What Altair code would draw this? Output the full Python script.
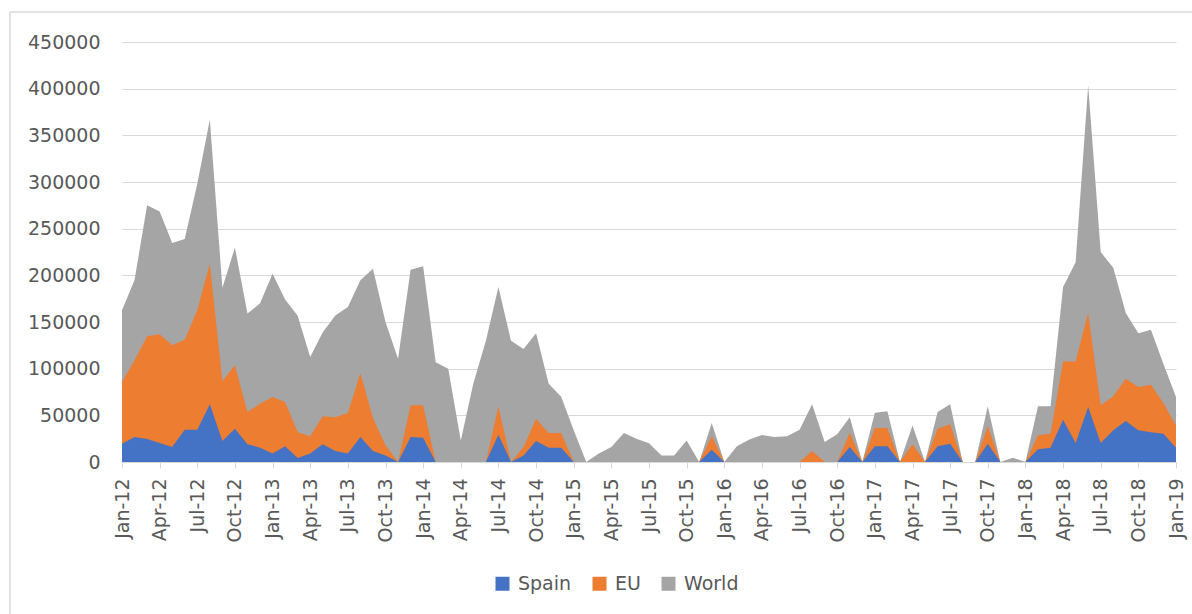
import json
import altair as alt
import pandas as pd

# Monthly index: 0 = Jan-12 ... 84 = Jan-19
tick_labels = ["Jan-12", "Apr-12", "Jul-12", "Oct-12", "Jan-13", "Apr-13", "Jul-13", "Oct-13",
               "Jan-14", "Apr-14", "Jul-14", "Oct-14", "Jan-15", "Apr-15", "Jul-15", "Oct-15",
               "Jan-16", "Apr-16", "Jul-16", "Oct-16", "Jan-17", "Apr-17", "Jul-17", "Oct-17",
               "Jan-18", "Apr-18", "Jul-18", "Oct-18", "Jan-19"]

world = [162500, 195000, 275000, 268500, 234600, 239000, 298000, 366700, 186800, 229600,
         159000, 170000, 201800, 174000, 156800, 112500, 139000, 157000, 166000, 194600,
         207000, 150000, 110700, 206000, 209600, 107000, 100000, 23000, 84000, 130000,
         187500, 130000, 121000, 138000, 84000, 70000, 34000, 0, 9000, 16000,
         31000, 25000, 20000, 7000, 7000, 23000, 0, 41800, 0, 16800,
         24000, 29000, 26800, 27500, 34600, 61800, 21400, 29600, 48000, 0,
         52800, 54300, 0, 39000, 0, 53600, 61800, 0, 0, 59600,
         0, 4600, 0, 59600, 59600, 187500, 214000, 403500, 225000, 208000,
         159600, 138000, 141800, 105000, 69600]

eu = [85700, 109000, 134600, 136800, 125000, 131000, 162500, 212500, 86800, 103600,
      53600, 62500, 69600, 64300, 32000, 27500, 49000, 48000, 52500, 95300,
      47500, 18000, 0, 60700, 60700, 0, 0, 0, 0, 0,
      59600, 0, 16000, 46400, 31000, 31000, 0, 0, 0, 0,
      0, 0, 0, 0, 0, 0, 0, 27500, 0, 0,
      0, 0, 0, 0, 0, 11800, 0, 0, 31400, 0,
      36400, 36400, 0, 19000, 0, 35700, 40400, 0, 0, 38600,
      0, 0, 0, 28600, 30400, 107800, 107800, 159600, 60700, 70400,
      89300, 80400, 82800, 63000, 39000]

spain = [19600, 26800, 24600, 20400, 16000, 34600, 34600, 61800, 22500, 35700,
         19000, 15400, 9000, 17000, 4300, 9000, 19000, 11800, 9000, 26800,
         11800, 7000, 0, 26800, 26000, 0, 0, 0, 0, 0,
         29300, 0, 7000, 22500, 15400, 15400, 0, 0, 0, 0,
         0, 0, 0, 0, 0, 0, 0, 13000, 0, 0,
         0, 0, 0, 0, 0, 0, 0, 0, 16000, 0,
         17000, 17000, 0, 0, 0, 16800, 19600, 0, 0, 19600,
         0, 0, 0, 13600, 15400, 45400, 20400, 59000, 20400, 34000,
         44000, 34000, 32000, 30400, 15400]

series_names = ["Spain", "EU", "World"]
series_colors = ["#4472C4", "#ED7D31", "#A5A5A5"]

rows = []
for name, vals in (("World", world), ("EU", eu), ("Spain", spain)):
    for i, v in enumerate(vals):
        rows.append({"m": i, "series": name, "value": v})
df = pd.DataFrame(rows)

label_expr = json.dumps(tick_labels) + "[round(datum.value / 3)]"

x_enc = alt.X("m:Q",
              scale=alt.Scale(domain=[0, 84], nice=False, zero=False),
              axis=alt.Axis(values=list(range(0, 85, 3)), labelExpr=label_expr,
                            labelAngle=-90, labelFontSize=19, labelColor="#595959",
                            tickColor="#d9d9d9", tickSize=6, domainColor="#d9d9d9",
                            grid=False, title=None, labelPadding=10))
y_enc = alt.Y("value:Q",
              scale=alt.Scale(domain=[0, 450000], nice=False),
              stack=None,
              axis=alt.Axis(values=list(range(0, 450001, 50000)), format="d",
                            labelFontSize=19, labelColor="#595959", ticks=False,
                            domain=False, gridColor="#d9d9d9", gridWidth=1.2,
                            labelPadding=22, title=None))
color_enc = alt.Color("series:N",
                      scale=alt.Scale(domain=series_names, range=series_colors),
                      legend=alt.Legend(orient="none", legendX=371, legendY=532,
                                        direction="horizontal", symbolType="square",
                                        symbolSize=196, symbolStrokeWidth=0,
                                        labelFontSize=19, labelColor="#595959",
                                        title=None, columnPadding=18, labelOffset=6))

base = alt.Chart(df)
layers = []
for name in ("World", "EU", "Spain"):
    layers.append(
        base.transform_filter(alt.datum.series == name)
        .mark_area(opacity=1, interpolate="linear")
        .encode(x=x_enc, y=y_enc, color=color_enc)
    )

border = alt.Chart(pd.DataFrame({"a": [0]})).mark_rect(
    fillOpacity=0, stroke="#d9d9d9", strokeWidth=1.5
).encode(x=alt.value(-112), x2=alt.value(1090), y=alt.value(-30), y2=alt.value(600))

chart = alt.layer(border, *layers).properties(
    width=1054, height=420,
    autosize=alt.AutoSizeParams(type="none"),
    padding={"left": 122, "top": 42, "right": 16, "bottom": 152},
).configure(font="DejaVu Sans").configure_view(stroke=None)

chart.save("out.html", embed_options={"renderer": "svg", "actions": False})
